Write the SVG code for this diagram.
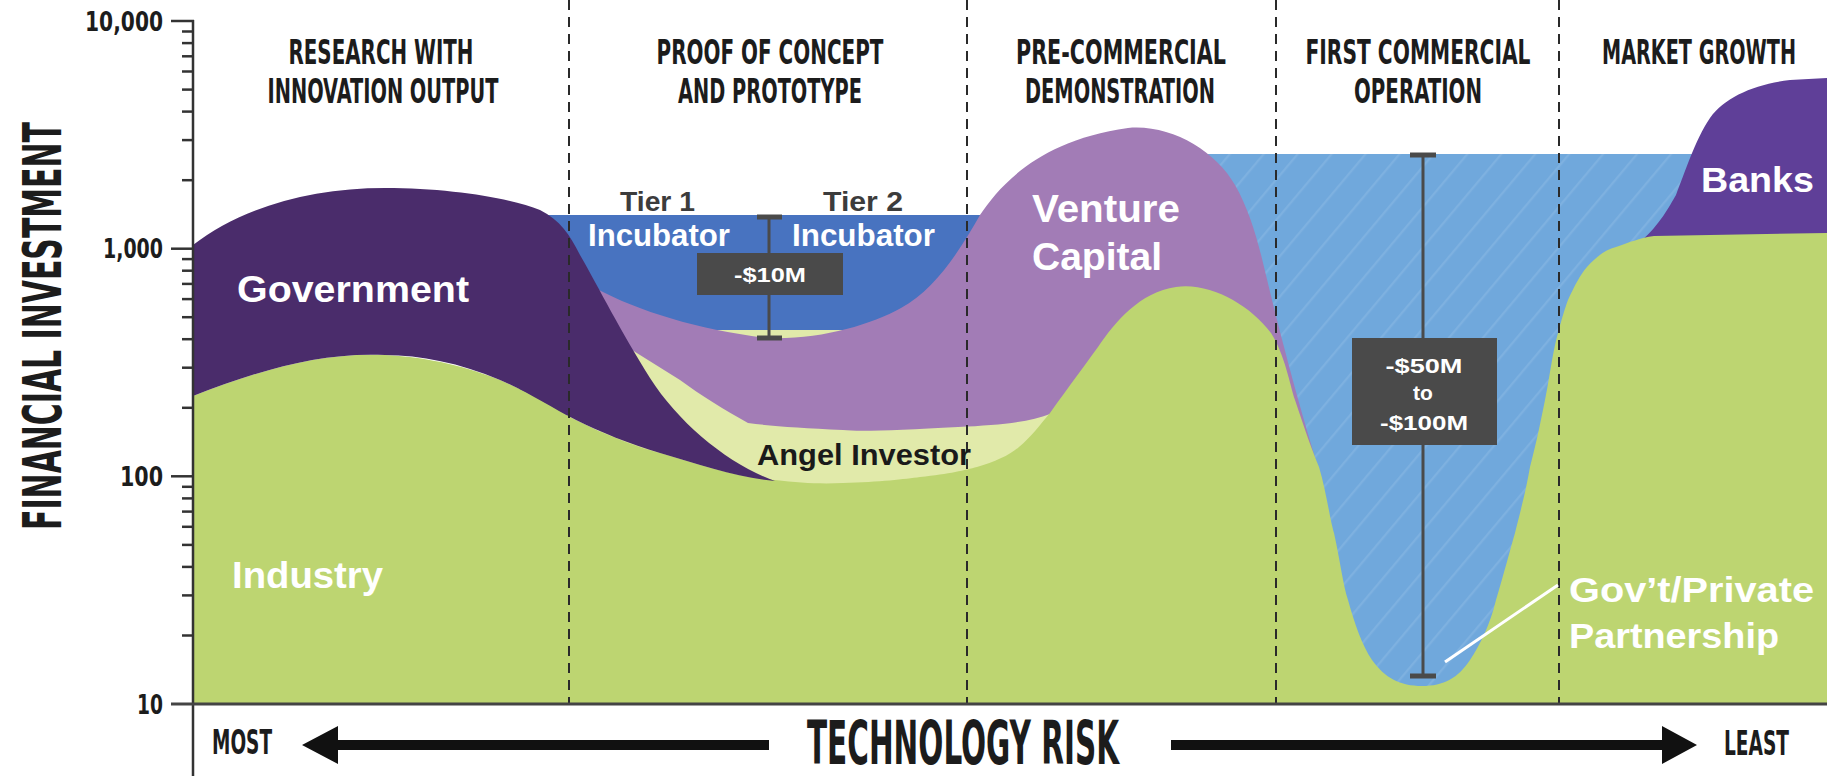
<svg xmlns="http://www.w3.org/2000/svg" width="1827" height="776" viewBox="0 0 1827 776">
<defs>
<pattern id="hatch" patternUnits="userSpaceOnUse" width="26" height="26" patternTransform="rotate(40)">
<rect width="26" height="26" fill="#70a8dc"/>
<line x1="1" y1="0" x2="1" y2="26" stroke="#7eb1e0" stroke-width="2.5"/>
</pattern>
<style>
.hdr{font-family:'DejaVu Sans Condensed','DejaVu Sans',sans-serif;font-stretch:condensed;font-weight:700;font-size:33px;fill:#1c1c1c;text-anchor:middle}
.ax{font-family:'DejaVu Sans Condensed','DejaVu Sans',sans-serif;font-stretch:condensed;font-weight:700;fill:#1c1c1c}
.wl{font-family:'Liberation Sans',Arial,sans-serif;font-weight:700;fill:#ffffff}
.dl{font-family:'Liberation Sans',Arial,sans-serif;font-weight:700;fill:#1a1a1a}
.tier{font-family:'Liberation Sans',Arial,sans-serif;font-weight:700;fill:#3c3c3c;font-size:27px}
.box{fill:#4a4a4a}
.bar{stroke:#4a4a4a;stroke-width:3;fill:none}
.cap{stroke:#4a4a4a;stroke-width:5;fill:none}
.dash{stroke:#2a2a2a;stroke-width:2;stroke-dasharray:10 7;fill:none}
.tick{stroke:#333;stroke-width:2.5}
</style>
</defs>
<rect width="1827" height="776" fill="#ffffff"/>

<g id="ppp-gap">
<rect x="1150" y="154" width="677" height="550" fill="url(#hatch)"/>
</g>
<g id="incubator">
<rect x="520" y="215" width="520" height="200" fill="#4873c0"/>
</g>
<g id="angel-investor">
<path d="M600,330 L1052,330 L1052,500 L600,500 Z" fill="#e1eaaa"/>
</g>
<g id="venture-capital">
<path d="M560,270 L595,288 C640,312 700,330 767,338 C820,340 870,325 901,308 C935,290 960,250 980,215 C1000,185 1040,140 1128,128 C1170,124 1215,150 1235,185 C1255,220 1262,260 1272,300 C1282,340 1300,410 1322,480 L1330,520 L1100,520 L1050,414 C1030,422 1000,425 958,427 C900,430 860,432 843,430 C800,428 770,426 748,423 C725,410 700,395 680,380 L600,330 Z" fill="#a27cb6"/>
</g>
<g id="banks">
<path d="M1640,242 C1660,225 1670,205 1676,195 C1684,175 1695,140 1710,118 C1725,97 1755,84 1790,80 L1827,78 L1827,242 Z" fill="#5f3f98"/>
</g>
<g id="industry">
<path d="M193,396 C260,370 320,352 385,355 C430,357 470,368 500,380 C540,397 560,412 576,420 C610,437 640,448 660,453 C700,465 740,478 775,480 C800,483 820,484 843,483 C880,482 905,479 920,477 C950,474 965,470 977,467 C995,462 1010,455 1019,447 C1030,438 1040,425 1050,413 C1070,385 1085,365 1098,347 C1115,322 1140,292 1176,287 C1210,282 1250,305 1271,333 C1285,355 1290,385 1295,400 C1305,430 1312,450 1319,467 C1326,490 1330,520 1334,533 C1340,560 1343,585 1348,600 C1355,625 1362,645 1372,660 C1385,678 1400,686 1422,686 C1444,686 1458,678 1470,660 C1480,645 1490,625 1496,600 C1505,570 1510,550 1515,533 C1522,505 1526,490 1530,467 C1537,440 1541,420 1545,400 C1550,375 1553,350 1558,333 C1562,318 1565,308 1568,300 C1575,285 1580,275 1587,267 C1597,256 1605,250 1616,247 C1630,242 1640,238 1654,236 L1827,233 L1827,704 L193,704 Z" fill="#bdd571"/>
</g>
<g id="government">
<path d="M193,245 C240,208 310,188 385,188 C450,188 510,198 540,210 C560,220 570,235 580,255 C600,290 620,330 650,378 C680,425 730,465 775,481 C740,478 700,465 660,453 C630,444 600,432 576,420 C550,407 530,393 500,380 C460,363 420,355 385,355 C320,352 260,370 193,396 Z" fill="#4a2c6b"/>
</g>

<g id="phase-dividers">
<line class="dash" x1="569" y1="0" x2="569" y2="704"/>
<line class="dash" x1="967" y1="0" x2="967" y2="704"/>
<line class="dash" x1="1276" y1="0" x2="1276" y2="704"/>
<line class="dash" x1="1559" y1="0" x2="1559" y2="704"/>
</g>

<g id="headers">
<text class="hdr" transform="translate(381,64) scale(0.66,1)" textLength="280.3" lengthAdjust="spacingAndGlyphs">RESEARCH WITH</text>
<text class="hdr" transform="translate(383,103) scale(0.66,1)" textLength="350" lengthAdjust="spacingAndGlyphs">INNOVATION OUTPUT</text>
<text class="hdr" transform="translate(770,64) scale(0.66,1)" textLength="343.9" lengthAdjust="spacingAndGlyphs">PROOF OF CONCEPT</text>
<text class="hdr" transform="translate(770,103) scale(0.66,1)" textLength="278.8" lengthAdjust="spacingAndGlyphs">AND PROTOTYPE</text>
<text class="hdr" transform="translate(1121,64) scale(0.66,1)" textLength="318.2" lengthAdjust="spacingAndGlyphs">PRE-COMMERCIAL</text>
<text class="hdr" transform="translate(1120,103) scale(0.66,1)" textLength="287.9" lengthAdjust="spacingAndGlyphs">DEMONSTRATION</text>
<text class="hdr" transform="translate(1418,64) scale(0.66,1)" textLength="340.9" lengthAdjust="spacingAndGlyphs">FIRST COMMERCIAL</text>
<text class="hdr" transform="translate(1418,103) scale(0.66,1)" textLength="193.9" lengthAdjust="spacingAndGlyphs">OPERATION</text>
<text class="hdr" transform="translate(1699,64) scale(0.66,1)" textLength="293.9" lengthAdjust="spacingAndGlyphs">MARKET GROWTH</text>
</g>

<g id="labels">
<text class="wl" x="237" y="302" font-size="36" textLength="232" lengthAdjust="spacingAndGlyphs">Government</text>
<text class="wl" x="232" y="588" font-size="36" textLength="151" lengthAdjust="spacingAndGlyphs">Industry</text>
<text class="wl" x="1032" y="222" font-size="38" textLength="148" lengthAdjust="spacingAndGlyphs">Venture</text>
<text class="wl" x="1032" y="270" font-size="38" textLength="130" lengthAdjust="spacingAndGlyphs">Capital</text>
<text class="wl" x="1701" y="192" font-size="35" textLength="113" lengthAdjust="spacingAndGlyphs">Banks</text>
<text class="tier" x="620" y="211" textLength="75" lengthAdjust="spacingAndGlyphs">Tier 1</text>
<text class="tier" x="823" y="211" textLength="80" lengthAdjust="spacingAndGlyphs">Tier 2</text>
<text class="wl" x="588" y="246" font-size="31" textLength="142" lengthAdjust="spacingAndGlyphs">Incubator</text>
<text class="wl" x="792" y="246" font-size="31" textLength="143" lengthAdjust="spacingAndGlyphs">Incubator</text>
<text class="dl" x="757" y="465" font-size="29" textLength="214" lengthAdjust="spacingAndGlyphs">Angel Investor</text>
<text class="wl" x="1569" y="602" font-size="35" textLength="245" lengthAdjust="spacingAndGlyphs">Gov’t/Private</text>
<text class="wl" x="1569" y="648" font-size="35" textLength="210" lengthAdjust="spacingAndGlyphs">Partnership</text>
</g>

<g id="connectors">
<line x1="1445" y1="662" x2="1558" y2="585" stroke="#ffffff" stroke-width="3"/>
<line class="bar" x1="769" y1="217" x2="769" y2="338"/>
<line class="cap" x1="757" y1="217" x2="782" y2="217"/>
<line class="cap" x1="757" y1="338" x2="782" y2="338"/>
<line class="bar" x1="1423" y1="155" x2="1423" y2="676"/>
<line class="cap" x1="1410" y1="155" x2="1436" y2="155"/>
<line class="cap" x1="1410" y1="676" x2="1436" y2="676"/>
</g>

<g id="gap-10m">
<rect class="box" x="697" y="253" width="146" height="42"/>
<text class="wl" x="770" y="282" font-size="21" text-anchor="middle" textLength="72" lengthAdjust="spacingAndGlyphs">-$10M</text>
</g>
<g id="gap-50m">
<rect class="box" x="1352" y="338" width="145" height="107"/>
<text class="wl" x="1424" y="373" font-size="21" text-anchor="middle" textLength="77" lengthAdjust="spacingAndGlyphs">-$50M</text>
<text class="wl" x="1423" y="400" font-size="21" text-anchor="middle">to</text>
<text class="wl" x="1424" y="430" font-size="21" text-anchor="middle" textLength="88" lengthAdjust="spacingAndGlyphs">-$100M</text>
</g>

<g id="y-axis">
<line x1="193" y1="20" x2="193" y2="776" stroke="#333" stroke-width="2.5"/>
<line x1="171" y1="704" x2="1827" y2="704" stroke="#444" stroke-width="3"/>
<line class="tick" x1="171" y1="21" x2="194" y2="21"/>
<line class="tick" x1="171" y1="248.7" x2="193" y2="248.7"/>
<line class="tick" x1="171" y1="476.3" x2="193" y2="476.3"/>
<g class="tick">
<line x1="182" y1="180.2" x2="193" y2="180.2"/><line x1="182" y1="140.1" x2="193" y2="140.1"/><line x1="182" y1="111.6" x2="193" y2="111.6"/><line x1="182" y1="89.6" x2="193" y2="89.6"/><line x1="182" y1="71.5" x2="193" y2="71.5"/><line x1="182" y1="56.3" x2="193" y2="56.3"/><line x1="182" y1="43.1" x2="193" y2="43.1"/><line x1="182" y1="31.5" x2="193" y2="31.5"/>
<line x1="182" y1="407.8" x2="193" y2="407.8"/><line x1="182" y1="367.7" x2="193" y2="367.7"/><line x1="182" y1="339.2" x2="193" y2="339.2"/><line x1="182" y1="317.2" x2="193" y2="317.2"/><line x1="182" y1="299.1" x2="193" y2="299.1"/><line x1="182" y1="283.9" x2="193" y2="283.9"/><line x1="182" y1="270.7" x2="193" y2="270.7"/><line x1="182" y1="259.1" x2="193" y2="259.1"/>
<line x1="182" y1="635.5" x2="193" y2="635.5"/><line x1="182" y1="595.4" x2="193" y2="595.4"/><line x1="182" y1="566.9" x2="193" y2="566.9"/><line x1="182" y1="544.9" x2="193" y2="544.9"/><line x1="182" y1="526.8" x2="193" y2="526.8"/><line x1="182" y1="511.6" x2="193" y2="511.6"/><line x1="182" y1="498.4" x2="193" y2="498.4"/><line x1="182" y1="486.8" x2="193" y2="486.8"/>
</g>
<text class="ax" transform="translate(163,31) scale(0.86,1)" font-size="26" text-anchor="end" textLength="90.7" lengthAdjust="spacingAndGlyphs">10,000</text>
<text class="ax" transform="translate(163,258) scale(0.81,1)" font-size="26" text-anchor="end" textLength="74.1" lengthAdjust="spacingAndGlyphs">1,000</text>
<text class="ax" transform="translate(163,486) scale(0.88,1)" font-size="26" text-anchor="end" textLength="48.9" lengthAdjust="spacingAndGlyphs">100</text>
<text class="ax" transform="translate(163,714) scale(0.8,1)" font-size="26" text-anchor="end" textLength="32.5" lengthAdjust="spacingAndGlyphs">10</text>
<text class="ax" transform="translate(61,326) rotate(-90) scale(0.616,1)" font-size="54" text-anchor="middle" textLength="662.3" lengthAdjust="spacingAndGlyphs">FINANCIAL INVESTMENT</text>
</g>

<g id="x-axis">
<text class="ax" transform="translate(212,754) scale(0.62,1)" font-size="33" textLength="96.8" lengthAdjust="spacingAndGlyphs">MOST</text>
<path d="M302,745 L338,726 L338,740 L769,740 L769,750 L338,750 L338,764 Z" fill="#111"/>
<text class="ax" transform="translate(963,764) scale(0.534,1)" font-size="61" text-anchor="middle" textLength="584.3" lengthAdjust="spacingAndGlyphs">TECHNOLOGY RISK</text>
<path d="M1171,740 L1662,740 L1662,726 L1697,745 L1662,764 L1662,750 L1171,750 Z" fill="#111"/>
<text class="ax" transform="translate(1724,755) scale(0.63,1)" font-size="33" textLength="103.2" lengthAdjust="spacingAndGlyphs">LEAST</text>
</g>
</svg>
